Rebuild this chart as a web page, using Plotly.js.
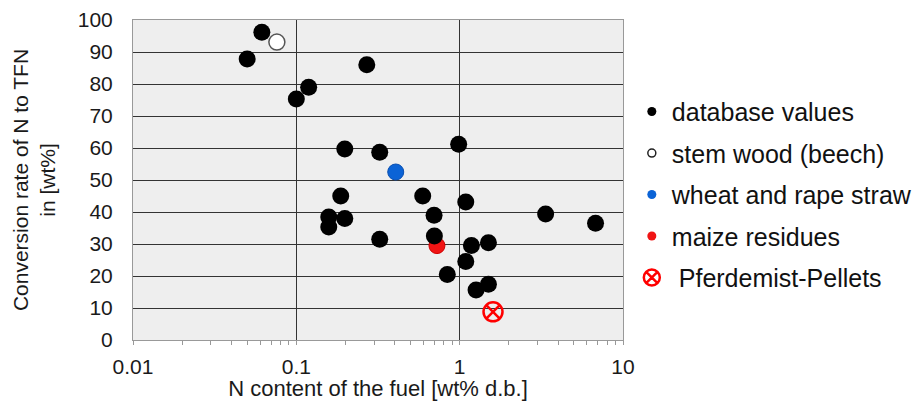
<!DOCTYPE html>
<html>
<head>
<meta charset="utf-8">
<script src="https://cdn.plot.ly/plotly-3.0.1.min.js"></script>
<style>html,body{margin:0;padding:0;background:#fff;}#chart{width:922px;height:401px;}</style>
</head>
<body>
<div id="chart"></div>
<script>
// N content of the fuel [wt% d.b.] and conversion rate [wt%]
var dbX = [0.050, 0.0615, 0.100, 0.119, 0.270, 0.198, 0.324, 0.986, 0.187, 0.594, 1.09, 0.158, 0.158, 0.198, 0.324, 0.697, 0.700, 1.18, 1.50, 1.09, 0.84, 1.26, 1.50, 3.36, 6.79];
var dbY = [87.8, 96.2, 75.3, 79.0, 86.0, 59.7, 58.7, 61.2, 45.0, 45.0, 43.1, 38.4, 35.3, 38.0, 31.5, 39.0, 32.5, 29.5, 30.4, 24.5, 20.5, 15.6, 17.4, 39.4, 36.5];
var beechX = [0.076];
var beechY = [93.1];
var strawX = [0.406];
var strawY = [52.5];
var maizeX = [0.726];
var maizeY = [29.5];
var pelletX = [1.60];
var pelletY = [8.8];
var seriesNames = ["database values", "stem wood (beech)", "wheat and rape straw", "maize residues", "\u00A0Pferdemist-Pellets"];
var xTickVals = [0.01, 0.1, 1, 10];
var xTickText = ["0.01", "0.1", "1", "10"];
var yTickVals = [0, 10, 20, 30, 40, 50, 60, 70, 80, 90, 100];

var traces = [
  {x: beechX, y: beechY, type: 'scatter', mode: 'markers', showlegend: false,
   marker: {size: 16, color: '#ffffff', line: {color: '#555555', width: 1.5}}},
  {x: strawX, y: strawY, type: 'scatter', mode: 'markers', showlegend: false,
   marker: {size: 16, color: '#0b63d6', line: {color: '#0a4fb0', width: 1}}},
  {x: maizeX, y: maizeY, type: 'scatter', mode: 'markers', showlegend: false,
   marker: {size: 16, color: '#f01414', line: {color: '#d00000', width: 1}}},
  {x: dbX, y: dbY, type: 'scatter', mode: 'markers', showlegend: false,
   marker: {size: 17, color: '#000000', line: {color: '#000000', width: 0}}},
  {x: pelletX, y: pelletY, type: 'scatter', mode: 'markers', showlegend: false,
   marker: {size: 19, symbol: 'circle-x-open', color: '#ff0000', line: {color: '#ff0000', width: 2.5}}},
  // legend entries
  {x: [null], y: [null], type: 'scatter', mode: 'markers', name: seriesNames[0], legendgroup: 'a',
   marker: {size: 9, color: '#000000'}},
  {x: [null], y: [null], type: 'scatter', mode: 'markers', name: seriesNames[1], legendgroup: 'b',
   marker: {size: 8, color: '#ffffff', line: {color: '#222222', width: 1.5}}},
  {x: [null], y: [null], type: 'scatter', mode: 'markers', name: seriesNames[2], legendgroup: 'c',
   marker: {size: 9, color: '#0b63d6'}},
  {x: [null], y: [null], type: 'scatter', mode: 'markers', name: seriesNames[3], legendgroup: 'd',
   marker: {size: 9, color: '#f01414'}},
  {x: [null], y: [null], type: 'scatter', mode: 'markers', name: seriesNames[4], legendgroup: 'e',
   marker: {size: 16, symbol: 'circle-x-open', color: '#ff0000', line: {color: '#ff0000', width: 2.5}}}
];

var layout = {
  width: 922, height: 401,
  margin: {l: 133, r: 299, t: 20, b: 61, pad: 0, autoexpand: false},
  paper_bgcolor: '#ffffff',
  plot_bgcolor: '#eeeeee',
  font: {family: 'Liberation Sans, Arial, sans-serif', color: '#1a1a1a', size: 18},
  showlegend: true,
  legend: {x: 1.018, xanchor: 'left', y: 0.785, yanchor: 'top', traceorder: 'grouped', tracegroupgap: 6,
           font: {size: 25, color: '#111111'}, bgcolor: 'rgba(0,0,0,0)', itemsizing: 'trace'},
  xaxis: {
    type: 'log', range: [-2, 1], tickvals: xTickVals, ticktext: xTickText,
    showgrid: true, gridcolor: '#333333', gridwidth: 1,
    showline: true, linecolor: '#999999', linewidth: 1, mirror: true,
    ticks: 'outside', ticklen: 4, tickcolor: '#999999', ticklabelstandoff: 4,
    minor: {dtick: 'D1', ticks: 'outside', ticklen: 4, tickcolor: '#999999', showgrid: false},
    zeroline: false, tickfont: {size: 21},
    title: {text: 'N content of the fuel [wt% d.b.]', font: {size: 22}, standoff: 0}
  },
  yaxis: {
    range: [0, 100], tickvals: yTickVals, showgrid: true, gridcolor: '#333333', gridwidth: 1,
    showline: true, linecolor: '#999999', linewidth: 1, mirror: true, zeroline: false,
    ticks: '', tickfont: {size: 21}, ticklabelstandoff: 15,
    title: {text: 'Conversion rate of N to TFN<br>in [wt%]', font: {size: 21}, standoff: 16}
  }
};

Plotly.newPlot('chart', traces, layout, {displayModeBar: false, staticPlot: true});
</script>
</body>
</html>
